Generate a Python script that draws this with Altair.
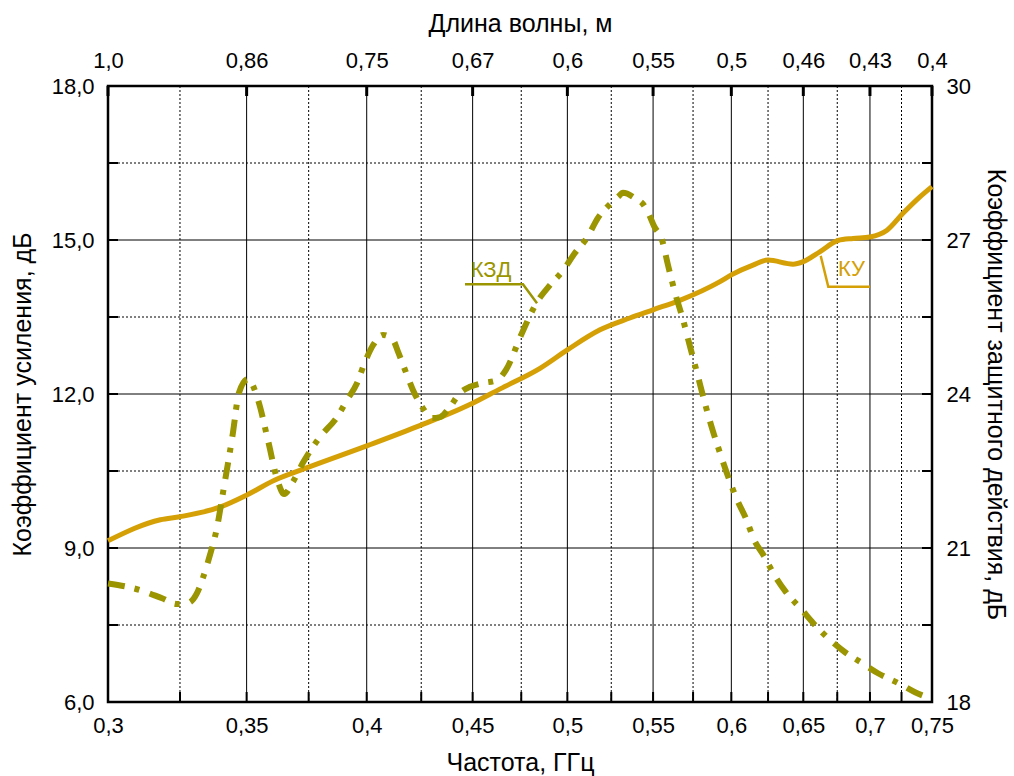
import altair as alt
import pandas as pd

FONT = "Liberation Sans"
KU_COLOR = "#D4A006"
KZD_COLOR = "#9A9500"

# axis ticks / labels
freq_ticks = [0.3, 0.35, 0.4, 0.45, 0.5, 0.55, 0.6, 0.65, 0.7, 0.75]
freq_labels = ["0,3", "0,35", "0,4", "0,45", "0,5", "0,55", "0,6", "0,65", "0,7", "0,75"]
wave_labels = ["1,0", "0,86", "0,75", "0,67", "0,6", "0,55", "0,5", "0,46", "0,43", "0,4"]
freq_minor = [0.325, 0.375, 0.425, 0.475, 0.525, 0.575, 0.625, 0.675, 0.725]
gain_ticks = [6, 9, 12, 15, 18]
gain_major = [9, 12, 15]
gain_minor = [7.5, 10.5, 13.5, 16.5]
gain_all = [6, 7.5, 9, 10.5, 12, 13.5, 15, 16.5, 18]
kzd_ticks = [18, 21, 24, 27, 30]

# КУ (gain, left axis, dB)
ku_freq = [0.300, 0.318, 0.325, 0.340, 0.350, 0.361, 0.3735, 0.400, 0.424, 0.450,
           0.464, 0.485, 0.500, 0.5185, 0.536, 0.550, 0.567, 0.5925, 0.600, 0.6146,
           0.625, 0.6426, 0.650, 0.662, 0.6756, 0.687, 0.700, 0.7134, 0.7262, 0.740, 0.750]
ku_gain = [9.14, 9.55, 9.61, 9.80, 10.03, 10.32, 10.55, 10.99, 11.38, 11.82,
           12.10, 12.50, 12.86, 13.25, 13.48, 13.64, 13.83, 14.19, 14.32, 14.51,
           14.61, 14.53, 14.58, 14.77, 14.99, 15.03, 15.06, 15.19, 15.52, 15.84, 16.04]

# КЗД (right axis, dB)
kzd_freq = [0.300, 0.3109, 0.3186, 0.3239, 0.3279, 0.3312, 0.3334, 0.3360, 0.3387, 0.3409,
            0.3447, 0.3470, 0.3505, 0.3545, 0.3584, 0.3624, 0.3649, 0.3685, 0.3726, 0.3797,
            0.3870, 0.3913, 0.3957, 0.3992, 0.4028, 0.4073, 0.4119, 0.4142, 0.4174, 0.4211,
            0.4254, 0.4301, 0.4340, 0.4388, 0.4437, 0.4487, 0.4547, 0.4624, 0.4670, 0.4754,
            0.4834, 0.4904, 0.4970, 0.5043, 0.5110, 0.5173, 0.5243, 0.5290, 0.5319, 0.5397,
            0.5439, 0.5476, 0.5506, 0.5555, 0.5592, 0.5636, 0.5687, 0.5731, 0.5776, 0.5821,
            0.5866, 0.5925, 0.5991, 0.6038, 0.6099, 0.6154, 0.6223, 0.6299, 0.6376, 0.6491,
            0.6571, 0.6696, 0.6809, 0.6938, 0.7063, 0.7222, 0.7360, 0.7450]
kzd_val = [20.31, 20.18, 20.02, 19.91, 19.93, 20.12, 20.42, 20.86, 21.41, 22.07,
           23.24, 24.02, 24.29, 23.88, 23.10, 22.29, 22.05, 22.29, 22.66, 23.16,
           23.55, 23.88, 24.21, 24.62, 24.95, 25.15, 25.05, 24.82, 24.47, 24.08,
           23.75, 23.53, 23.55, 23.75, 24.02, 24.14, 24.21, 24.27, 24.47, 25.19,
           25.79, 26.12, 26.38, 26.75, 27.04, 27.43, 27.70, 27.84, 27.92, 27.80,
           27.70, 27.49, 27.27, 27.00, 26.51, 25.97, 25.44, 24.92, 24.41, 23.88,
           23.40, 22.85, 22.29, 21.94, 21.57, 21.16, 20.84, 20.45, 20.14, 19.79,
           19.54, 19.21, 18.97, 18.76, 18.56, 18.37, 18.19, 18.10]

# annotations (left-axis units)
kzd_lead_f = [0.4462, 0.4759, 0.4834]
kzd_lead_g = [14.14, 14.14, 13.77]
ku_lead_f = [0.6627, 0.6683, 0.700]
ku_lead_g = [14.69, 14.09, 14.09]
label_text = ["КЗД", "КУ"]
label_f = [0.4490, 0.6756]
label_g = [14.28, 14.29]
label_color = [KZD_COLOR, KU_COLOR]


def label_expr(values, labels):
    expr = "''"
    for v, l in reversed(list(zip(values, labels))):
        expr = f"abs(datum.value - {v}) < 0.001 ? '{l}' : ({expr})"
    return expr


xscale = alt.Scale(type="log", domain=[0.3, 0.75], nice=False)
yL = alt.Scale(domain=[6, 18], nice=False, zero=False)
yR = alt.Scale(domain=[18, 30], nice=False, zero=False)

bottom_axis = alt.Axis(orient="bottom", values=freq_ticks, labelExpr=label_expr(freq_ticks, freq_labels),
                       title="Частота, ГГц", labelPadding=13, titlePadding=14, labelFlush=False)
top_axis = alt.Axis(orient="top", values=freq_ticks, labelExpr=label_expr(freq_ticks, wave_labels),
                    title="Длина волны, м", labelPadding=14, titlePadding=13, labelFlush=False)
left_axis = alt.Axis(orient="left", values=gain_ticks,
                     labelExpr="replace(format(datum.value, '.1f'), '.', ',')",
                     title="Коэффициент усиления, дБ", labelPadding=14, titlePadding=16)
right_axis = alt.Axis(orient="right", values=kzd_ticks, format="d",
                      title="Коэффициент защитного действия, дБ", labelPadding=14, titlePadding=12)

df_minor_x = pd.DataFrame({"f": freq_minor})
df_major_x = pd.DataFrame({"f": freq_ticks})
df_major_y = pd.DataFrame({"g": gain_major})
df_minor_y = pd.DataFrame({"g": gain_minor})
df_all_y = pd.DataFrame({"g": gain_all})
df_all_x = pd.DataFrame({"f": freq_ticks + freq_minor})

grid_minor_x = alt.Chart(df_minor_x).mark_rule(color="black", strokeWidth=1, strokeDash=[2, 2]).encode(
    x=alt.X("f:Q", scale=xscale, axis=None))
grid_major_x = alt.Chart(df_major_x).mark_rule(color="black", strokeWidth=1).encode(
    x=alt.X("f:Q", scale=xscale, axis=top_axis))
grid_minor_y = alt.Chart(df_minor_y).mark_rule(color="black", strokeWidth=1, strokeDash=[2, 2]).encode(
    y=alt.Y("g:Q", scale=yL, axis=None))
grid_major_y = alt.Chart(df_major_y).mark_rule(color="black", strokeWidth=1).encode(
    y=alt.Y("g:Q", scale=yL, axis=None))

tick_left = alt.Chart(df_all_y).mark_rule(color="black", strokeWidth=2).encode(
    y=alt.Y("g:Q", scale=yL, axis=None), x=alt.value(0), x2=alt.value(10))
tick_right = alt.Chart(df_all_y).mark_rule(color="black", strokeWidth=2).encode(
    y=alt.Y("g:Q", scale=yL, axis=None), x=alt.value(814), x2=alt.value(824))
tick_bottom = alt.Chart(df_all_x).mark_rule(color="black", strokeWidth=2).encode(
    x=alt.X("f:Q", scale=xscale, axis=None), y=alt.value(606), y2=alt.value(616))
tick_top = alt.Chart(df_major_x).mark_rule(color="black", strokeWidth=3).encode(
    x=alt.X("f:Q", scale=xscale, axis=None), y=alt.value(0), y2=alt.value(10))

ku_df = pd.DataFrame({"f": ku_freq, "g": ku_gain})
kzd_df = pd.DataFrame({"f": kzd_freq, "k": kzd_val})

ku_line = alt.Chart(ku_df).mark_line(color=KU_COLOR, strokeWidth=5, interpolate="monotone").encode(
    x=alt.X("f:Q", scale=xscale, axis=bottom_axis),
    y=alt.Y("g:Q", scale=yL, axis=left_axis))
kzd_line = alt.Chart(kzd_df).mark_line(color=KZD_COLOR, strokeWidth=6, interpolate="monotone",
                                       strokeDash=[17, 10, 5, 11]).encode(
    x=alt.X("f:Q", scale=xscale, axis=None),
    y=alt.Y("k:Q", scale=yR, axis=right_axis))

kzd_lead = alt.Chart(pd.DataFrame({"f": kzd_lead_f, "g": kzd_lead_g, "o": [0, 1, 2]})).mark_line(
    color=KZD_COLOR, strokeWidth=2.5).encode(
    x=alt.X("f:Q", scale=xscale, axis=None), y=alt.Y("g:Q", scale=yL, axis=None), order="o:Q")
ku_lead = alt.Chart(pd.DataFrame({"f": ku_lead_f, "g": ku_lead_g, "o": [0, 1, 2]})).mark_line(
    color=KU_COLOR, strokeWidth=2.5).encode(
    x=alt.X("f:Q", scale=xscale, axis=None), y=alt.Y("g:Q", scale=yL, axis=None), order="o:Q")
labels = alt.Chart(pd.DataFrame({"f": label_f, "g": label_g, "t": label_text, "c": label_color})).mark_text(
    align="left", baseline="alphabetic", font=FONT, fontSize=22).encode(
    x=alt.X("f:Q", scale=xscale, axis=None), y=alt.Y("g:Q", scale=yL, axis=None),
    text="t:N", color=alt.Color("c:N", scale=None))

chart = alt.layer(
    grid_minor_x, grid_minor_y, grid_major_y, grid_major_x,
    tick_left, tick_right, tick_bottom, tick_top,
    ku_lead, kzd_lead, labels,
    ku_line, kzd_line,
).resolve_scale(y="independent").resolve_axis(x="independent", y="independent").properties(
    width=824, height=616,
    autosize=alt.AutoSizeParams(type="none"),
    padding={"left": 108, "top": 86, "right": 82, "bottom": 74},
).configure_axis(
    labelFont=FONT, titleFont=FONT, labelFontSize=22, titleFontSize=25,
    labelColor="black", titleColor="black", titleFontWeight="normal",
    domain=False, ticks=False, grid=False,
).configure_view(stroke="black", strokeWidth=2.5)

chart.save("out.html", embed_options={"renderer": "svg", "actions": False})
